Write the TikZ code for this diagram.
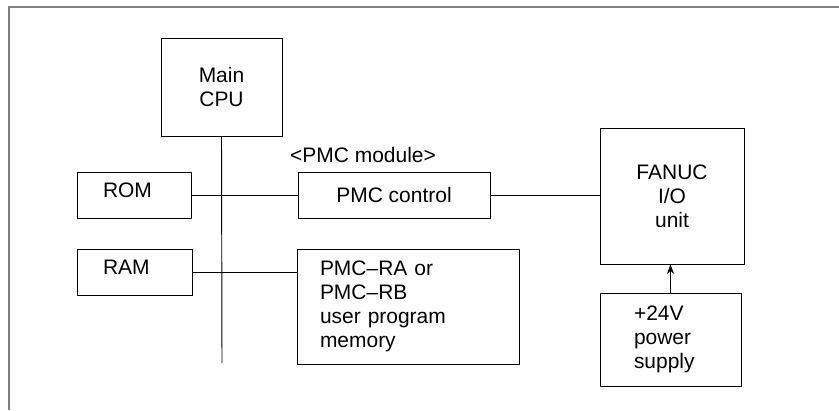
\documentclass[tikz,border=0pt]{standalone}
\usepackage{fontspec}
\setmainfont{Liberation Sans}
\usetikzlibrary{arrows.meta}
\begin{document}
\begin{tikzpicture}[
  x=0.03cm, y=-0.03cm,
  every node/.style={font=\fontsize{17.9}{20.5}\selectfont},
  box/.style={draw, line width=0.8pt, align=center, inner sep=0pt},
  link/.style={line width=0.8pt},
  arrow/.style={-{Stealth[length=8pt, width=6pt]}, line width=0.9pt}
]
\useasboundingbox (0,0) rectangle (839,410);
\draw[gray, line width=1.7pt] (9,410) -- (9,7) -- (839,7);
\node[box, minimum width=3.63cm, minimum height=2.94cm] (cpu) at (221.5,87) {Main\\CPU};
\node[box, minimum width=3.42cm, minimum height=1.38cm, text width=1.86cm, text depth=0.3cm, align=left, inner xsep=0.78cm] (rom) at (134,195) {ROM};
\node[box, minimum width=3.45cm, minimum height=1.38cm, text width=1.89cm, text depth=0.3cm, align=left, inner xsep=0.78cm] (ram) at (134.5,272) {RAM};
\node (module) at (363,155) {<PMC module>};
\node[box, minimum width=5.76cm, minimum height=1.38cm] (pmcctl) at (394,195) {PMC control};
\node[box, minimum width=6.66cm, minimum height=3.45cm, text width=5.28cm, align=left, inner xsep=0.69cm] (pmcra) at (408,306.5) {PMC--RA or\\PMC--RB\\user program\\memory};
\node[box, minimum width=4.32cm, minimum height=4.08cm] (fanuc) at (672,196) {FANUC\\I/O\\unit};
\node[box, minimum width=4.23cm, minimum height=2.79cm, text width=2.19cm, align=left, inner xsep=1.02cm] (power) at (670.5,339.5) {+24V\\power\\supply};
\coordinate (busend) at (222,363);
\draw[link] (cpu.south) -- (busend);
\draw[link] (rom.east) -- (pmcctl.west);
\draw[link] (ram.east) -- (ram.east -| pmcra.west);
\draw[link] (pmcctl.east) -- (pmcctl.east -| fanuc.west);
\draw[arrow] (power.north) -- (power.north |- fanuc.south);
\end{tikzpicture}
\end{document}
